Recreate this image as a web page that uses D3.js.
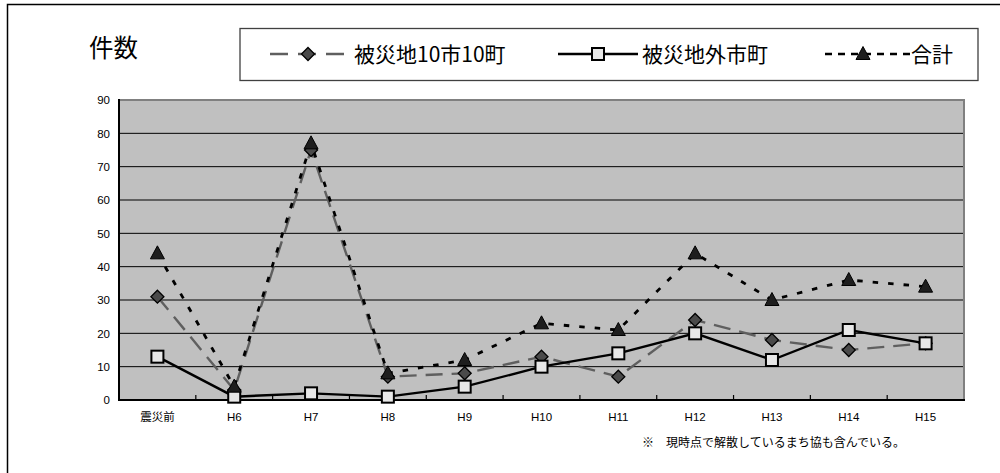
<!DOCTYPE html>
<html>
<head>
<meta charset="utf-8">
<script src="https://cdn.jsdelivr.net/npm/d3@7/dist/d3.min.js"></script>
<style>
  html, body { margin: 0; padding: 0; background: #fff; }
  svg { display: block; }
  text { font-family: "Liberation Sans", Arial, "Noto Sans CJK JP", sans-serif; }
  .jp { font-family: "Noto Sans CJK JP", "Noto Sans CJK SC", sans-serif; }
</style>
</head>
<body>
<svg id="chart" width="1000" height="473"></svg>
<script>
// ---- data ----
const categories = ["震災前", "H6", "H7", "H8", "H9", "H10", "H11", "H12", "H13", "H14", "H15"];
const seriesNames = ["被災地10市10町", "被災地外市町", "合計"];
const hisaichi = [31, 3, 75, 7, 8, 13, 7, 24, 18, 15, 17];
const hisaichigai = [13, 1, 2, 1, 4, 10, 14, 20, 12, 21, 17];
const goukei = [44, 4, 77, 8, 12, 23, 21, 44, 30, 36, 34];
const yTicks = [0, 10, 20, 30, 40, 50, 60, 70, 80, 90];
const yAxisTitle = "件数";
const footnote = "※　現時点で解散しているまち協も含んでいる。";

// ---- layout ----
const svg = d3.select("#chart");
const plot = { left: 119, right: 964, top: 100, bottom: 400 };

const x = d3.scaleBand().domain(categories).range([plot.left, plot.right]).paddingInner(0).paddingOuter(0);
const y = d3.scaleLinear().domain([0, 90]).range([plot.bottom, plot.top]);
const cx = d => x(d) + x.bandwidth() / 2;

// outer border (left + top visible)
svg.append("rect")
  .attr("x", 7.5).attr("y", 4.5).attr("width", 1100).attr("height", 600)
  .attr("fill", "none").attr("stroke", "#000").attr("stroke-width", 1.5);

// y title
svg.append("text").attr("class", "jp")
  .attr("x", 89).attr("y", 57)
  .attr("font-size", 24.5).attr("fill", "#000")
  .text(yAxisTitle);

// plot area background
svg.append("rect")
  .attr("x", plot.left).attr("y", plot.top)
  .attr("width", plot.right - plot.left).attr("height", plot.bottom - plot.top)
  .attr("fill", "#c0c0c0");

// gridlines
svg.append("g").selectAll("line")
  .data(yTicks.filter(t => t > 0 && t < 90))
  .join("line")
  .attr("x1", plot.left).attr("x2", plot.right)
  .attr("y1", d => y(d)).attr("y2", d => y(d))
  .attr("stroke", "#000").attr("stroke-width", 1);

// top and right border (gray)
svg.append("path")
  .attr("d", `M${plot.left},${plot.top}H${plot.right}V${plot.bottom}`)
  .attr("fill", "none").attr("stroke", "#808080").attr("stroke-width", 2);

// y axis
const yAxis = d3.axisLeft(y).tickValues(yTicks).tickSize(0).tickPadding(9);
const gy = svg.append("g").attr("transform", `translate(${plot.left},0)`).call(yAxis);
gy.select(".domain").remove();
gy.selectAll("text").attr("font-size", 11.5).attr("fill", "#000")
  .attr("font-family", "'Liberation Sans', Arial, sans-serif");

// x axis
const xAxis = d3.axisBottom(x).tickSize(0).tickPadding(13);
const gx = svg.append("g").attr("transform", `translate(0,${plot.bottom})`).call(xAxis);
gx.select(".domain").remove();
gx.selectAll("text").attr("font-size", 11.5).attr("fill", "#000")
  .attr("font-family", "'Liberation Sans', Arial, 'Noto Sans CJK JP', sans-serif");

// x category boundary ticks (inside)
svg.append("g").selectAll("line")
  .data(categories.slice(1))
  .join("line")
  .attr("x1", d => x(d)).attr("x2", d => x(d))
  .attr("y1", plot.bottom).attr("y2", plot.bottom - 5)
  .attr("stroke", "#000").attr("stroke-width", 1.2);

// axis lines
svg.append("line").attr("x1", plot.left).attr("x2", plot.right + 1)
  .attr("y1", plot.bottom).attr("y2", plot.bottom)
  .attr("stroke", "#000").attr("stroke-width", 2);
svg.append("line").attr("x1", plot.left).attr("x2", plot.left)
  .attr("y1", plot.top - 1).attr("y2", plot.bottom + 1)
  .attr("stroke", "#000").attr("stroke-width", 2);

// ---- series ----
const series = [
  { name: seriesNames[0], values: hisaichi, color: "#5f5f5f", width: 2.4, dash: "17,9", marker: "diamond" },
  { name: seriesNames[1], values: hisaichigai, color: "#000", width: 2.4, dash: null, marker: "square" },
  { name: seriesNames[2], values: goukei, color: "#000", width: 2.8, dash: "5.5,10", marker: "triangle" }
];

const line = d3.line().x((d, i) => cx(categories[i])).y(d => y(d));

series.forEach(s => {
  svg.append("path")
    .attr("d", line(s.values))
    .attr("fill", "none").attr("stroke", s.color).attr("stroke-width", s.width)
    .attr("stroke-dasharray", s.dash);
});

function drawMarker(g, type, px, py) {
  if (type === "diamond") {
    g.append("path")
      .attr("d", `M${px},${py - 6.5}L${px + 6.5},${py}L${px},${py + 6.5}L${px - 6.5},${py}Z`)
      .attr("fill", "#4a4a4a").attr("stroke", "#000").attr("stroke-width", 1.3);
  } else if (type === "square") {
    g.append("rect")
      .attr("x", px - 6).attr("y", py - 6).attr("width", 12).attr("height", 12)
      .attr("fill", "#e8e8e8").attr("stroke", "#000").attr("stroke-width", 2);
  } else {
    g.append("path")
      .attr("d", `M${px},${py - 7.5}L${px + 7},${py + 5.5}L${px - 7},${py + 5.5}Z`)
      .attr("fill", "#1e1e1e").attr("stroke", "#000").attr("stroke-width", 1);
  }
}

series.forEach(s => {
  const g = svg.append("g");
  s.values.forEach((v, i) => drawMarker(g, s.marker, cx(categories[i]), y(v)));
});

// ---- legend ----
const lg = svg.append("g");
lg.append("rect").attr("x", 240).attr("y", 28.5).attr("width", 738).attr("height", 52)
  .attr("fill", "#fff").attr("stroke", "#404040").attr("stroke-width", 1.3);

const legendItems = [
  { s: series[0], x1: 270, x2: 344, mx: 308, tx: 354, dash: "18,10" },
  { s: series[1], x1: 558, x2: 638, mx: 598, tx: 642, dash: null },
  { s: series[2], x1: 825, x2: 910, mx: 863, tx: 911, dash: "7,6" }
];
const ly = 54;
legendItems.forEach(it => {
  lg.append("line").attr("x1", it.x1).attr("x2", it.x2).attr("y1", ly).attr("y2", ly)
    .attr("stroke", it.s.color).attr("stroke-width", 2.6).attr("stroke-dasharray", it.dash);
  drawMarker(lg, it.s.marker, it.mx, ly);
  lg.append("text").attr("class", "jp")
    .attr("x", it.tx).attr("y", ly + 7.5)
    .attr("font-size", 21).attr("fill", "#000")
    .text(it.s.name);
});

// footnote
svg.append("text").attr("class", "jp")
  .attr("x", 642).attr("y", 447)
  .attr("font-size", 12).attr("fill", "#000")
  .text(footnote);
</script>
</body>
</html>
